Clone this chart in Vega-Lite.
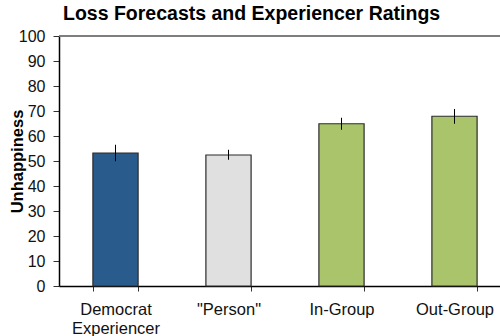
{
  "$schema": "https://vega.github.io/schema/vega-lite/v6.json",
  "autosize": {"type": "none"},
  "padding": {"left": 59, "top": 36, "right": 0, "bottom": 50},
  "width": 452,
  "height": 250,
  "background": "white",
  "config": {
    "font": "Liberation Sans",
    "view": {"stroke": null},
    "axisY": {
      "labelOverlap": false,
      "labelFontSize": 16,
      "labelColor": "#111",
      "labelPadding": 8,
      "tickSize": 6,
      "tickColor": "#333",
      "domainColor": "black",
      "domainWidth": 1.5,
      "grid": false,
      "titleFontSize": 16.5,
      "titleFontWeight": "bold",
      "titleColor": "black",
      "titlePadding": -7
    }
  },
  "title": {
    "text": "Loss Forecasts and Experiencer Ratings",
    "anchor": "start",
    "frame": "group",
    "dx": 4,
    "offset": 4,
    "fontSize": 19.5,
    "fontWeight": "bold",
    "color": "black",
    "font": "Liberation Sans"
  },
  "data": {
    "values": [
      {"group": "Democrat Experiencer", "mean": 53.2, "lo": 49.9, "hi": 56.5, "fill": "blue"},
      {"group": "\"Person\"", "mean": 52.4, "lo": 50.5, "hi": 54.5, "fill": "gray"},
      {"group": "In-Group", "mean": 64.9, "lo": 62.5, "hi": 67.3, "fill": "green"},
      {"group": "Out-Group", "mean": 67.9, "lo": 64.9, "hi": 70.8, "fill": "green"}
    ]
  },
  "encoding": {
    "x": {
      "field": "group",
      "type": "nominal",
      "sort": null,
      "scale": {"paddingInner": 0.6, "paddingOuter": 0.3},
      "axis": {
        "title": null,
        "labelAngle": 0,
        "labelFontSize": 16.5,
        "labelColor": "#111",
        "labelPadding": 10,
        "labelLineHeight": 19,
        "labelExpr": "datum.value == 'Democrat Experiencer' ? ['Democrat', 'Experiencer'] : datum.label",
        "tickBand": "extent",
        "tickSize": 5,
        "tickColor": "#333",
        "domainColor": "black",
        "domainWidth": 1.5,
        "grid": false
      }
    },
    "y": {
      "field": "mean",
      "type": "quantitative",
      "scale": {"domain": [0, 100], "nice": false},
      "axis": {
        "title": "Unhappiness",
        "values": [0, 10, 20, 30, 40, 50, 60, 70, 80, 90, 100]
      }
    }
  },
  "layer": [
    {
      "mark": {"type": "rule", "color": "#777", "strokeWidth": 1.2},
      "encoding": {
        "x": null,
        "y": {
          "datum": 100,
          "type": "quantitative",
          "axis": {"title": "Unhappiness", "values": [0, 10, 20, 30, 40, 50, 60, 70, 80, 90, 100]}
        }
      }
    },
    {
      "mark": {"type": "bar", "stroke": "#2b2b2b", "strokeWidth": 1.2},
      "encoding": {
        "fill": {
          "field": "fill",
          "type": "nominal",
          "scale": {"domain": ["blue", "gray", "green"], "range": ["#2a5b8d", "#e0e0e0", "#a9c46b"]},
          "legend": null
        }
      }
    },
    {
      "mark": {"type": "rule", "color": "black", "strokeWidth": 1},
      "encoding": {
        "y": {"field": "lo", "type": "quantitative"},
        "y2": {"field": "hi"}
      }
    }
  ]
}
